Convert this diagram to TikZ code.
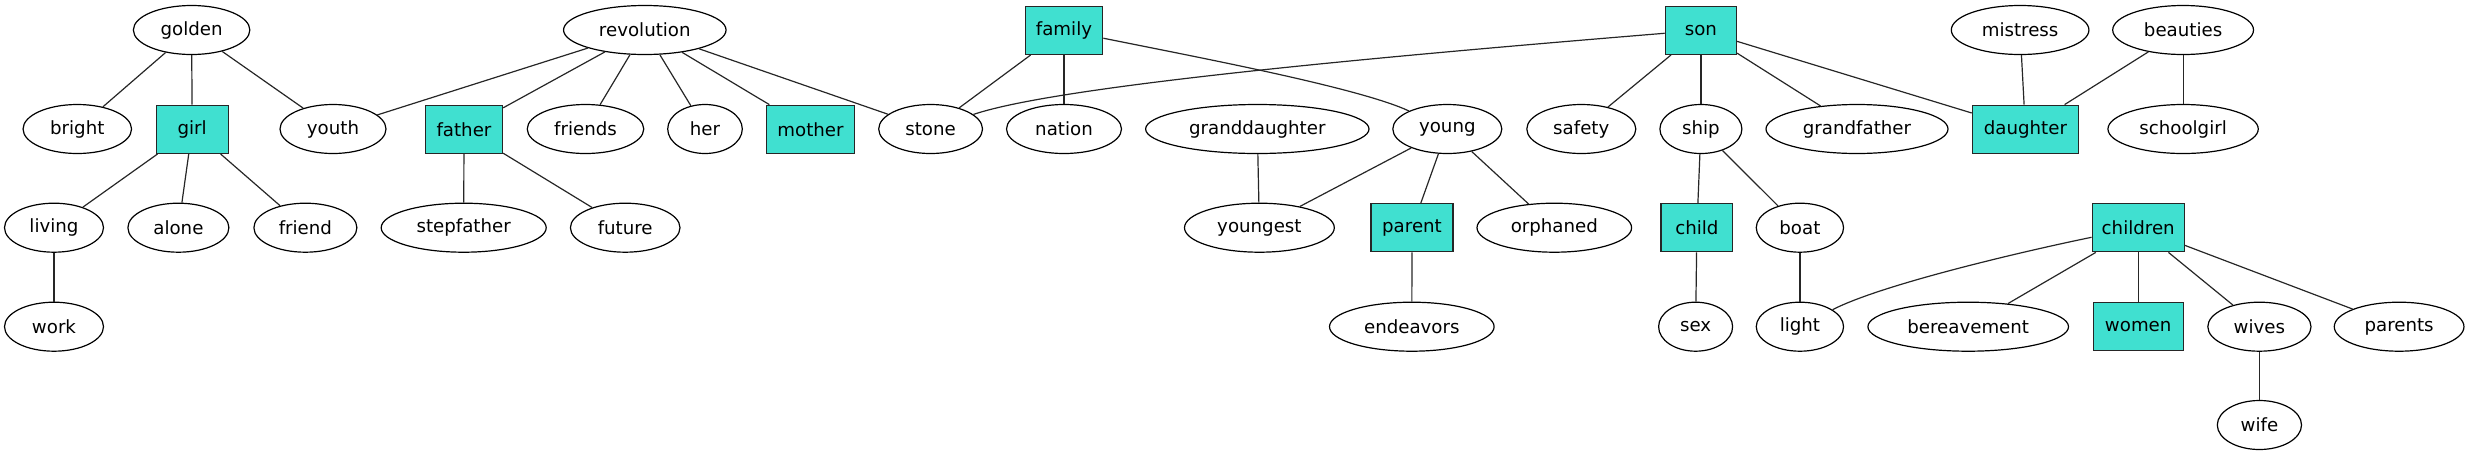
\documentclass[tikz,border=0pt]{standalone}
\usepackage{fontspec}
\setmainfont{DejaVu Sans}
\usetikzlibrary{shapes.geometric}
\definecolor{turq}{HTML}{40E0D0}
\definecolor{edgec}{HTML}{262626}
\tikzset{
  ell/.style={draw=black, line width=1.2pt, ellipse, inner sep=0pt, minimum height=49pt, font=\fontsize{18.2pt}{20pt}\selectfont},
  boxn/.style={draw=edgec, fill=turq, line width=1.4pt, rectangle, inner sep=0pt, minimum height=48pt, font=\fontsize{18.2pt}{20pt}\selectfont},
  edge/.style={draw=edgec, line width=1.2pt}
}
\begin{document}
\begin{tikzpicture}[x=1pt,y=-1pt]
\useasboundingbox (0,0) rectangle (2475,456);
% row 1
\node[ell, minimum width=116.5pt] (golden) at (191.6,30) {golden};
\node[ell, minimum width=162.5pt] (revolution) at (644.8,30) {revolution};
\node[boxn, minimum width=77.3pt] (family) at (1064,30.3) {family};
\node[boxn, minimum width=71pt] (son) at (1700.9,30.3) {son};
\node[ell, minimum width=137.6pt] (mistress) at (2020.1,30) {mistress};
\node[ell, minimum width=140.8pt] (beauties) at (2183.1,30) {beauties};
% row 2
\node[ell, minimum width=108.5pt] (bright) at (77.3,129) {bright};
\node[boxn, minimum width=72pt] (girl) at (192.2,129.3) {girl};
\node[ell, minimum width=106pt] (youth) at (333,129) {youth};
\node[boxn, minimum width=77pt] (father) at (464,129.3) {father};
\node[ell, minimum width=116.5pt] (friends) at (585.5,129) {friends};
\node[ell, minimum width=74.6pt] (her) at (705,129) {her};
\node[boxn, minimum width=88pt] (mother) at (810.5,129.3) {mother};
\node[ell, minimum width=103.8pt] (stone) at (930.6,129) {stone};
\node[ell, minimum width=115pt] (nation) at (1064,129) {nation};
\node[ell, minimum width=223.4pt] (granddaughter) at (1257.3,129) {granddaughter};
\node[ell, minimum width=109pt] (young) at (1447.3,129) {young};
\node[ell, minimum width=109pt] (safety) at (1581.3,129) {safety};
\node[ell, minimum width=82pt] (ship) at (1700.9,129) {ship};
\node[ell, minimum width=182pt] (grandfather) at (1857,129) {grandfather};
\node[boxn, minimum width=106pt] (daughter) at (2025.4,129.3) {daughter};
\node[ell, minimum width=150.3pt] (schoolgirl) at (2183.1,129) {schoolgirl};
% row 3
\node[ell, minimum width=99pt] (living) at (54,227.7) {living};
\node[ell, minimum width=101pt] (alone) at (178.4,227.7) {alone};
\node[ell, minimum width=103pt] (friend) at (305.4,227.7) {friend};
\node[ell, minimum width=165pt] (stepfather) at (463.7,227.7) {stepfather};
\node[ell, minimum width=109.6pt] (future) at (625.2,227.7) {future};
\node[ell, minimum width=149.8pt] (youngest) at (1259.4,227.7) {youngest};
\node[boxn, minimum width=82pt] (parent) at (1412,227.7) {parent};
\node[ell, minimum width=154.6pt] (orphaned) at (1554.3,227.7) {orphaned};
\node[boxn, minimum width=71.5pt] (child) at (1696.9,227.7) {child};
\node[ell, minimum width=87.3pt] (boat) at (1799.9,227.7) {boat};
\node[boxn, minimum width=92pt] (children) at (2138.2,227.7) {children};
% row 4
\node[ell, minimum width=99pt] (work) at (54,326.7) {work};
\node[ell, minimum width=164.6pt] (endeavors) at (1411.8,326.7) {endeavors};
\node[ell, minimum width=74pt] (sex) at (1695.6,326.7) {sex};
\node[ell, minimum width=87.3pt] (light) at (1799.9,326.7) {light};
\node[ell, minimum width=200.6pt] (bereavement) at (1968.2,326.7) {bereavement};
\node[boxn, minimum width=90pt] (women) at (2138.2,326.7) {women};
\node[ell, minimum width=103.2pt] (wives) at (2259.4,326.7) {wives};
\node[ell, minimum width=129.7pt] (parents) at (2399.1,326.7) {parents};
% row 5
\node[ell, minimum width=84.2pt] (wife) at (2259.4,425) {wife};
% edges
\draw[edge] (golden) -- (bright);
\draw[edge] (golden) -- (girl);
\draw[edge] (golden) -- (youth);
\draw[edge] (revolution) -- (youth);
\draw[edge] (revolution) -- (father);
\draw[edge] (revolution) -- (friends);
\draw[edge] (revolution) -- (her);
\draw[edge] (revolution) -- (mother);
\draw[edge] (revolution) -- (stone);
\draw[edge] (girl) -- (living);
\draw[edge] (girl) -- (alone);
\draw[edge] (girl) -- (friend);
\draw[edge] (living) -- (work);
\draw[edge] (father) -- (stepfather);
\draw[edge] (father) -- (future);
\draw[edge] (family) -- (stone);
\draw[edge] (family) -- (nation);
\draw[edge] (family) .. controls (1200,57.7) and (1360,88) .. (young);
\draw[edge] (son) .. controls (1400,55) and (1060,85) .. (stone);
\draw[edge] (son) -- (safety);
\draw[edge] (son) -- (ship);
\draw[edge] (son) -- (grandfather);
\draw[edge] (son) -- (daughter);
\draw[edge] (granddaughter) -- (youngest);
\draw[edge] (young) -- (youngest);
\draw[edge] (young) -- (parent);
\draw[edge] (young) -- (orphaned);
\draw[edge] (parent) -- (endeavors);
\draw[edge] (mistress) -- (daughter);
\draw[edge] (beauties) -- (daughter);
\draw[edge] (beauties) -- (schoolgirl);
\draw[edge] (ship) -- (child);
\draw[edge] (ship) -- (boat);
\draw[edge] (child) -- (sex);
\draw[edge] (boat) -- (light);
\draw[edge] (children) .. controls (2020,252) and (1880,285) .. (light);
\draw[edge] (children) -- (bereavement);
\draw[edge] (children) -- (women);
\draw[edge] (children) -- (wives);
\draw[edge] (children) -- (parents);
\draw[edge] (wives) -- (wife);
\end{tikzpicture}
\end{document}
